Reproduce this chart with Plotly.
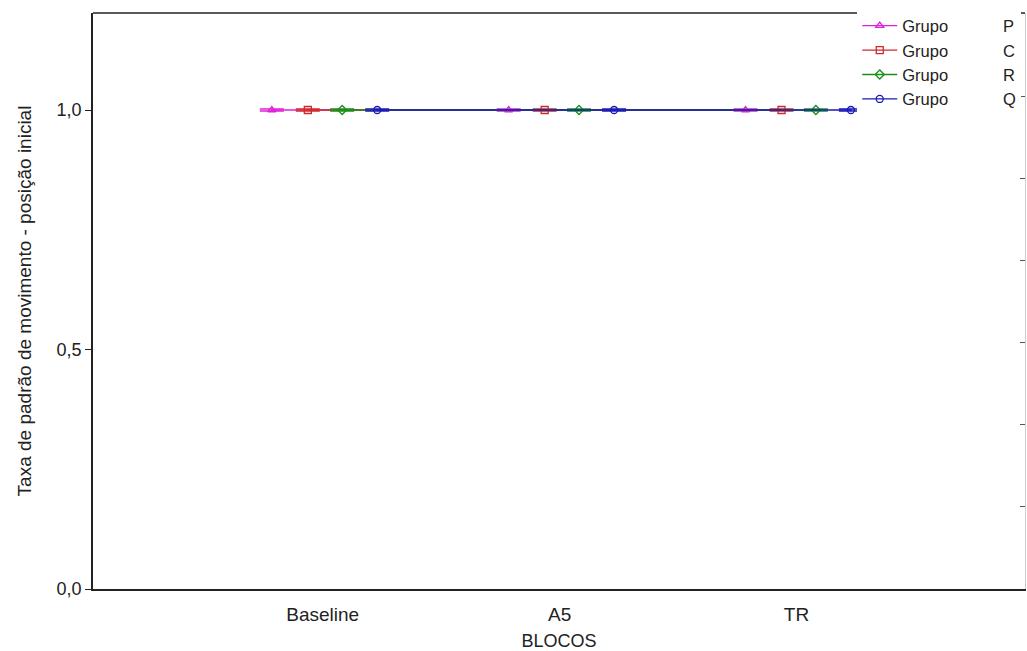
import plotly.graph_objects as go

blocks = ["Baseline", "A5", "TR"]
groups = ["P", "C", "R", "Q"]
values = {
    "P": [1.0, 1.0, 1.0],
    "C": [1.0, 1.0, 1.0],
    "R": [1.0, 1.0, 1.0],
    "Q": [1.0, 1.0, 1.0],
}
errors = {
    "P": [0.002, 0.002, 0.002],
    "C": [0.002, 0.002, 0.002],
    "R": [0.002, 0.002, 0.002],
    "Q": [0.002, 0.002, 0.002],
}
y_ticks = [0.0, 0.5, 1.0]

offsets = {"P": -0.215, "C": -0.063, "R": 0.082, "Q": 0.23}
colors = {"P": "#E020D8", "C": "#D02828", "R": "#189018", "Q": "#1818B8"}
symbols = {"P": "triangle-up-open", "C": "square-open", "R": "diamond-open", "Q": "circle-open"}

FONT = "Liberation Sans, Arial, sans-serif"
NBSP = "\u00a0"

fig = go.Figure()
for g in groups:
    xs = [i + offsets[g] for i in range(len(blocks))]
    fig.add_trace(go.Scatter(
        x=xs, y=values[g], mode="lines+markers",
        name="Grupo" + NBSP * 12 + g,
        line=dict(color=colors[g], width=1.3),
        marker=dict(symbol=symbols[g], size=7, color=colors[g], line=dict(width=1.3, color=colors[g])),
        error_y=dict(type="data", array=errors[g], width=12, thickness=1.5, color=colors[g], visible=True),
    ))

# invisible trace for the right-hand secondary axis
fig.add_trace(go.Scatter(x=[0], y=[0], yaxis="y2", mode="markers",
                         marker=dict(opacity=0), showlegend=False, hoverinfo="skip"))

fig.update_layout(
    width=1027, height=651,
    margin=dict(l=93, r=2, t=13, b=62, autoexpand=False),
    paper_bgcolor="white", plot_bgcolor="white",
    font=dict(family=FONT, size=19, color="#222"),
    separators=",.",
    showlegend=True,
    legend=dict(x=0.82, y=1.008, xanchor="left", yanchor="top",
                bgcolor="white", borderwidth=0, tracegroupgap=0,
                font=dict(family=FONT, size=16.5, color="#222"), itemwidth=35),
    xaxis=dict(range=[-0.97, 2.965], tickvals=list(range(len(blocks))), ticktext=blocks,
               showgrid=False, zeroline=False, showline=True, linecolor="#222", linewidth=1.5,
               ticks="", mirror=False, ticklabelstandoff=7, automargin=False,
               title=dict(text="BLOCOS", font=dict(family=FONT, size=18), standoff=16),
               tickfont=dict(family=FONT, size=19)),
    yaxis=dict(range=[0, 1.2025], tickvals=y_ticks, tickformat=".1f",
               showgrid=False, zeroline=False, showline=True, linecolor="#222", linewidth=1.5,
               ticks="outside", ticklen=6, tickcolor="#222", automargin=False,
               title=dict(text="Taxa de padrão de movimento - posição inicial", font=dict(family=FONT, size=19), standoff=20),
               tickfont=dict(family=FONT, size=18)),
    yaxis2=dict(overlaying="y", side="right", range=[0, 7.02], tickvals=[1, 2, 3, 4, 5, 6],
                showticklabels=False, ticks="inside", ticklen=5, tickcolor="#555", automargin=False,
                showgrid=False, zeroline=False, showline=True, linecolor="#ccc", linewidth=1),
    shapes=[dict(type="line", xref="paper", yref="paper", x0=0, x1=1, y0=1, y1=1,
                 line=dict(color="#222", width=1.5))],
)

fig.write_html("out.html")
